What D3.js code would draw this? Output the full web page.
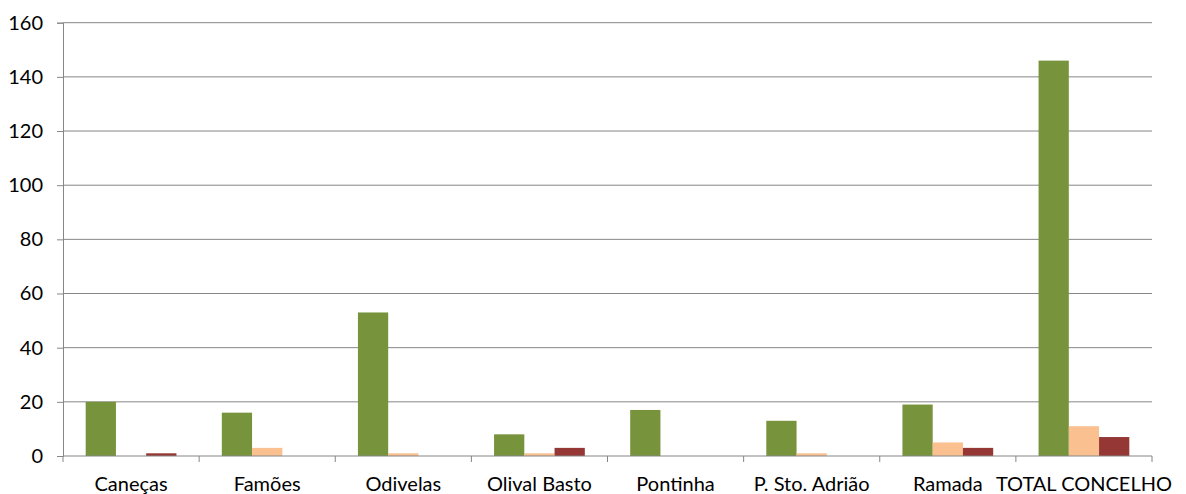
<!DOCTYPE html>
<html>
<head>
<meta charset="utf-8">
<script src="https://cdn.jsdelivr.net/npm/d3@7"></script>
<style>
  body { margin: 0; background: #fff; }
  svg text { font-family: "Gill Sans", Lato, sans-serif; fill: #000; }
</style>
</head>
<body>
<div class="App"></div>
<script>
// categories and series
const categories = ["Caneças", "Famões", "Odivelas", "Olival Basto", "Pontinha", "P. Sto. Adrião", "Ramada", "TOTAL CONCELHO"];
const seriesNames = ["s1", "s2", "s3"];
const greenValues = [20, 16, 53, 8, 17, 13, 19, 146];
const peachValues = [0, 3, 1, 1, 0, 1, 5, 11];
const redValues = [1, 0, 0, 3, 0, 0, 3, 7];
const yTicks = [0, 20, 40, 60, 80, 100, 120, 140, 160];

const colors = ["#77933C", "#FAC090", "#953735"];
const allValues = [greenValues, peachValues, redValues];

const w = 1186;
const h = 494;
const plotLeft = 63, plotRight = 1152, plotTop = 22.7, plotBottom = 456;

const svg = d3.select(".App").append("svg")
  .attr("width", w)
  .attr("height", h);

const x0 = d3.scaleBand().domain(categories).range([plotLeft, plotRight]);
const x1 = d3.scaleBand().domain(seriesNames).range([0, x0.bandwidth()]).paddingInner(0).paddingOuter(0.75);
const y = d3.scaleLinear().domain([0, 160]).range([plotBottom, plotTop]);

// gridlines + y labels
const yAxis = d3.axisLeft(y).tickValues(yTicks).tickSize(6).tickPadding(14);
const gy = svg.append("g").attr("transform", `translate(${plotLeft},0)`).call(yAxis);
gy.select(".domain").attr("stroke", "#868686");
gy.selectAll(".tick line").attr("stroke", "#868686");
gy.selectAll(".tick text").style("font-size", "20px");

svg.append("g").selectAll("line")
  .data(yTicks.filter(d => d > 0))
  .enter()
  .append("line")
  .attr("x1", plotLeft).attr("x2", plotRight)
  .attr("y1", d => y(d)).attr("y2", d => y(d))
  .attr("stroke", "#868686");

// bars
const groups = svg.append("g").selectAll("g")
  .data(categories)
  .enter()
  .append("g")
  .attr("transform", d => `translate(${x0(d)},0)`);

groups.selectAll("rect")
  .data((d, i) => seriesNames.map((s, j) => ({ s, j, v: allValues[j][i] })))
  .enter()
  .append("rect")
  .attr("x", d => x1(d.s))
  .attr("width", x1.bandwidth())
  .attr("y", d => y(d.v))
  .attr("height", d => y(0) - y(d.v))
  .attr("fill", d => colors[d.j]);

// x axis with boundary ticks
const xAxisLine = svg.append("g");
xAxisLine.append("line")
  .attr("x1", plotLeft).attr("x2", plotRight)
  .attr("y1", plotBottom).attr("y2", plotBottom)
  .attr("stroke", "#868686");
xAxisLine.selectAll("line.tk")
  .data(categories.map(c => x0(c)).concat([plotRight]))
  .enter()
  .append("line")
  .attr("class", "tk")
  .attr("x1", d => d).attr("x2", d => d)
  .attr("y1", plotBottom).attr("y2", plotBottom + 6)
  .attr("stroke", "#868686");

svg.append("g").selectAll("text")
  .data(categories)
  .enter()
  .append("text")
  .attr("x", d => x0(d) + x0.bandwidth() / 2)
  .attr("y", 491)
  .attr("text-anchor", "middle")
  .style("font-size", "20px")
  .text(d => d);
</script>
</body>
</html>
